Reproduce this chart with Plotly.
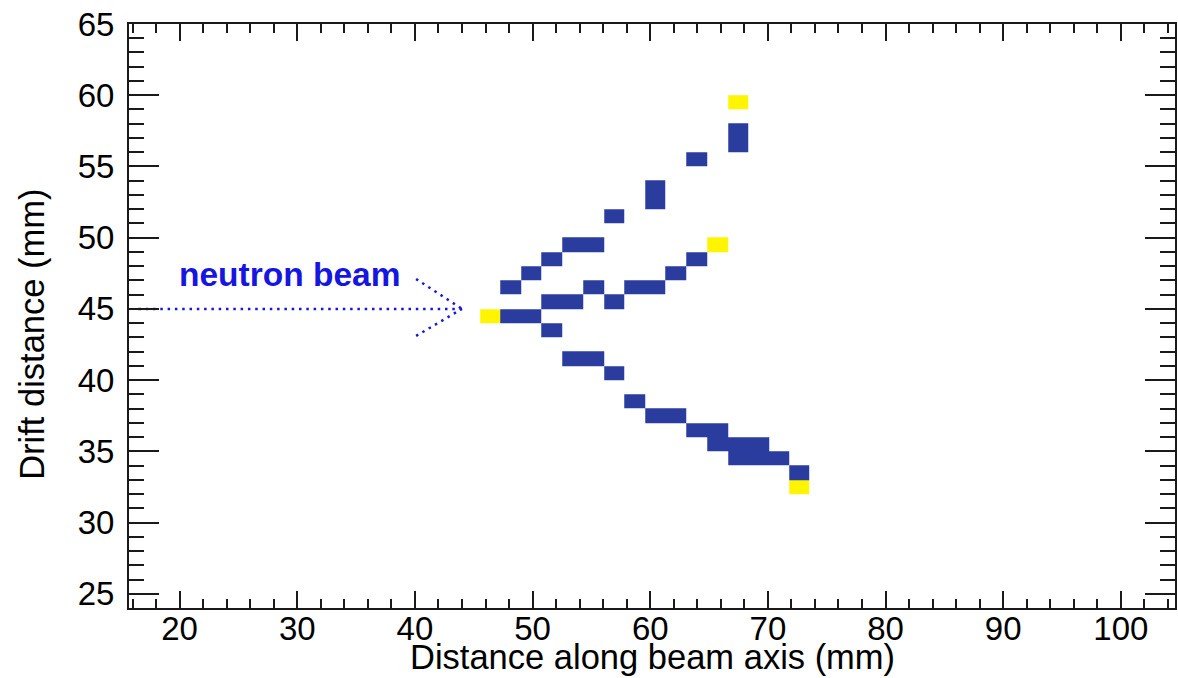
import plotly.graph_objects as go

# ---- data ----
# strip centres along beam axis (mm)
strip_x = [46.4, 48.1, 49.9, 51.6, 53.4, 55.2, 56.9, 58.7, 60.4, 62.2, 64.0, 65.7, 67.5, 69.2, 71.0, 72.7]
# drift rows (mm, bin centres)
row_y = [32.5, 33.5, 34.5, 35.5, 36.5, 37.5, 38.5, 39.5, 40.5, 41.5, 42.5, 43.5, 44.5, 45.5,
         46.5, 47.5, 48.5, 49.5, 50.5, 51.5, 52.5, 53.5, 54.5, 55.5, 56.5, 57.5, 58.5, 59.5]

# hits: strip index, drift (mm)
blue_strip = [12, 12, 10, 8, 8, 6, 4, 5, 3, 10, 2, 9, 1, 5, 7, 8, 3, 4, 6, 1, 2, 3, 4, 5, 6,
              7, 8, 9, 10, 11, 11, 12, 13, 12, 13, 14, 15]
blue_drift = [57.5, 56.5, 55.5, 53.5, 52.5, 51.5, 49.5, 49.5, 48.5, 48.5, 47.5, 47.5, 46.5, 46.5,
              46.5, 46.5, 45.5, 45.5, 45.5, 44.5, 44.5, 43.5, 41.5, 41.5, 40.5, 38.5, 37.5, 37.5,
              36.5, 36.5, 35.5, 35.5, 35.5, 34.5, 34.5, 34.5, 33.5]
yellow_strip = [12, 11, 0, 15]
yellow_drift = [59.5, 49.5, 44.5, 32.5]

# arrow geometry (data units)
beam_x = [16.5, 44.0]
beam_y = [45.0, 45.0]
head_x = [40.1, 44.0, None, 40.1, 44.0]
head_y = [47.1, 45.0, None, 43.1, 45.0]

x_ticks = [20, 30, 40, 50, 60, 70, 80, 90, 100]
y_ticks = [25, 30, 35, 40, 45, 50, 55, 60, 65]

BLUE = "#2A3C9E"
YELLOW = "#FFF500"
TXT_BLUE = "#1616E0"
FONT = "Liberation Sans, Arial, Helvetica, sans-serif"

# build z matrix
z = [[None for _ in strip_x] for _ in row_y]
for s, d in zip(blue_strip, blue_drift):
    z[row_y.index(d)][s] = 1
for s, d in zip(yellow_strip, yellow_drift):
    z[row_y.index(d)][s] = 2

fig = go.Figure()
fig.add_trace(go.Heatmap(
    x=strip_x, y=row_y, z=z, zmin=1, zmax=2,
    colorscale=[[0, BLUE], [0.5, BLUE], [0.5, YELLOW], [1, YELLOW]],
    showscale=False, hoverongaps=False,
))
fig.add_trace(go.Scatter(x=beam_x, y=beam_y, mode="lines",
                         line=dict(color=TXT_BLUE, width=2.5, dash="2.5px,4.8px"),
                         showlegend=False, hoverinfo="skip"))
fig.add_trace(go.Scatter(x=head_x, y=head_y, mode="lines",
                         line=dict(color=TXT_BLUE, width=2.5, dash="2.5px,4.8px"),
                         showlegend=False, hoverinfo="skip"))

fig.add_annotation(x=29.35, y=47.4, xref="x", yref="y", text="<b>neutron beam</b>",
                   showarrow=False, font=dict(family=FONT, size=33.5, color=TXT_BLUE))

axis_common = dict(showgrid=False, zeroline=False, showline=True, linecolor="#1a1a1a",
                   linewidth=2, mirror="ticks", ticks="inside", tickcolor="#1a1a1a",
                   tickfont=dict(family=FONT, size=33, color="black"))

fig.update_xaxes(range=[15.7, 104.6], tickvals=x_ticks, ticklen=17, tickwidth=2,
                 minor=dict(dtick=2, tick0=0, ticks="inside", ticklen=9, tickwidth=1.6,
                            tickcolor="#1a1a1a", showgrid=False),
                 ticklabelstandoff=-10,
                 **axis_common)
fig.update_yaxes(range=[24.0, 65.0], tickvals=y_ticks, ticklen=30, tickwidth=2,
                 minor=dict(dtick=1, tick0=0, ticks="inside", ticklen=15, tickwidth=1.6,
                            tickcolor="#1a1a1a", showgrid=False),
                 ticklabelstandoff=6,
                 **axis_common)

fig.add_annotation(text="Distance along beam axis (mm)", xref="paper", yref="paper",
                   x=0.5, y=-0.084, xanchor="center", yanchor="middle", showarrow=False,
                   font=dict(family=FONT, size=34.5, color="black"))
fig.add_annotation(text="Drift distance (mm)", xref="paper", yref="paper",
                   x=-0.093, y=0.469, xanchor="center", yanchor="middle", textangle=-90,
                   showarrow=False, font=dict(family=FONT, size=34.5, color="black"))

fig.update_layout(width=1178, height=678, margin=dict(l=129, r=1, t=24, b=70),
                  plot_bgcolor="white", paper_bgcolor="white", showlegend=False)

fig.write_html("out.html")
